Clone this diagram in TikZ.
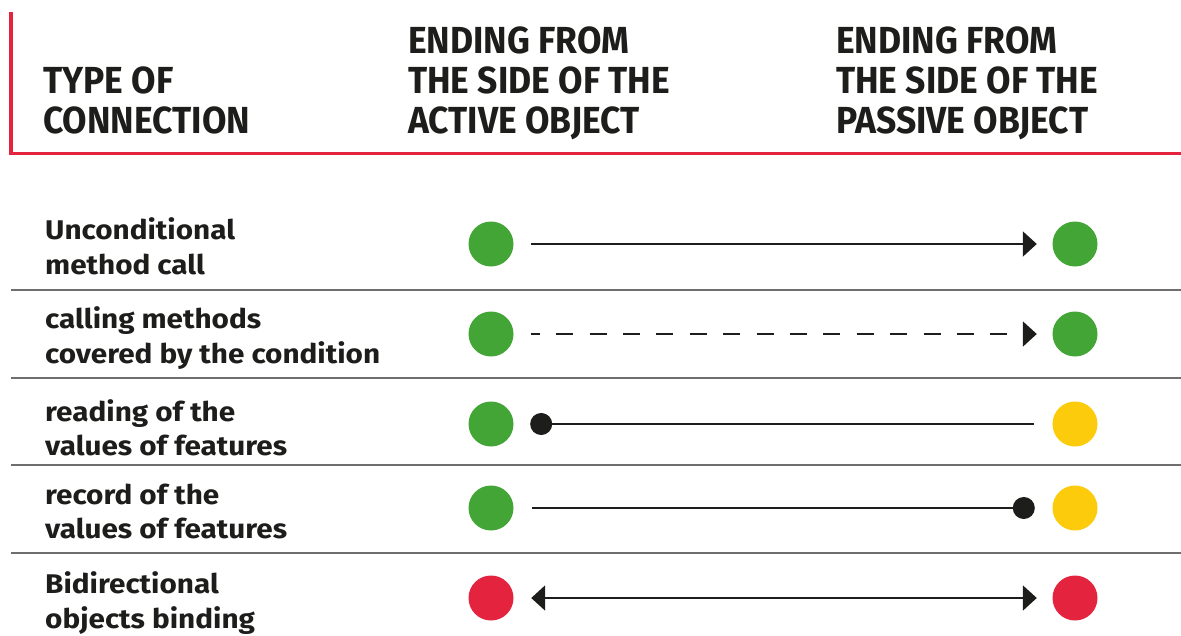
\documentclass[tikz,border=0pt]{standalone}
\usepackage{fontspec}
\setmainfont{Fira Sans}
\newfontfamily\headfont{Fira Sans}[FakeStretch=0.94]
\newfontfamily\lblfont{Fira Sans}[FakeStretch=1.1]
\usetikzlibrary{arrows.meta}
\definecolor{tabred}{HTML}{E4243F}
\definecolor{dotgreen}{HTML}{43A536}
\definecolor{dotyellow}{HTML}{FCCB0B}
\definecolor{ink}{HTML}{1D1D1B}
\definecolor{rulegray}{HTML}{6E6E6E}
\tikzset{
	dotend/.tip={Circle[length=22pt]},
	dot/.style={fill,circle,inner sep=0pt,minimum size=45pt},
	lbl/.style={anchor=north west,inner sep=0pt,align=left,text=ink,font=\lblfont\bfseries\fontsize{27}{34.5}\selectfont},
	hdr/.style={anchor=north west,inner sep=0pt,align=left,text=ink,font=\headfont\bfseries\fontsize{37.7}{40}\selectfont},
	link/.style={line width=2.2pt,ink,shorten <=17.5pt,shorten >=15.5pt}
}
\begin{document}
\begin{tikzpicture}[x=1pt,y=-1pt,>={Triangle[length=14pt,width=25pt]}]
		\useasboundingbox (0,0) rectangle (1181,635);
		
		\draw[tabred,line width=4.5pt] (11,12) -- (11,155);
		\draw[tabred,line width=3.5pt] (9,153.5) -- (1181,153.5);
		
		\node[hdr] (h0) at (43,67) {TYPE OF\\CONNECTION};
		\node[hdr] (h1) at (408,27) {ENDING FROM\\THE SIDE OF THE\\ACTIVE OBJECT};
		\node[hdr] (h2) at (836,27) {ENDING FROM\\THE SIDE OF THE\\PASSIVE OBJECT};
		
		\foreach \y in {290,377.5,465,552.5}{
			\draw[rulegray,line width=2pt] (11,\y) -- (1181,\y);
		}
		
		\foreach \y/\cl/\cr[count=\i] in {244/dotgreen/dotgreen,334/dotgreen/dotgreen,424/dotgreen/dotyellow,508/dotgreen/dotyellow,598/tabred/tabred}{
			\node[dot,\cl] (a\i) at (491,\y){};
			\node[dot,\cr] (p\i) at (1075,\y){};
		}
		
		\node[lbl] (t1) at (45,217.5) {Unconditional\\method call};
		\node[lbl] (t2) at (45,306.5) {calling methods\\covered by the condition};
		\node[lbl] (t3) at (45,399) {reading of the\\values of features};
		\node[lbl] (t4) at (45,483.5) {record of the\\values of features};
		\node[lbl] (t5) at (45,571.5) {Bidirectional\\objects binding};
		
		\draw[link,->] (a1) -- (p1);
		\draw[link,->,shorten <=17pt,dash pattern=on 17pt off 16.4pt,dash phase=8pt] (a2) -- (p2);
		\draw[link,dotend-,shorten <=16.5pt,shorten >=18.5pt] (a3) -- (p3);
		\draw[link,-dotend,shorten <=18.5pt,shorten >=17.5pt] (a4) -- (p4);
		\draw[link,<->] (a5) -- (p5);
		\end{tikzpicture}
\end{document}
